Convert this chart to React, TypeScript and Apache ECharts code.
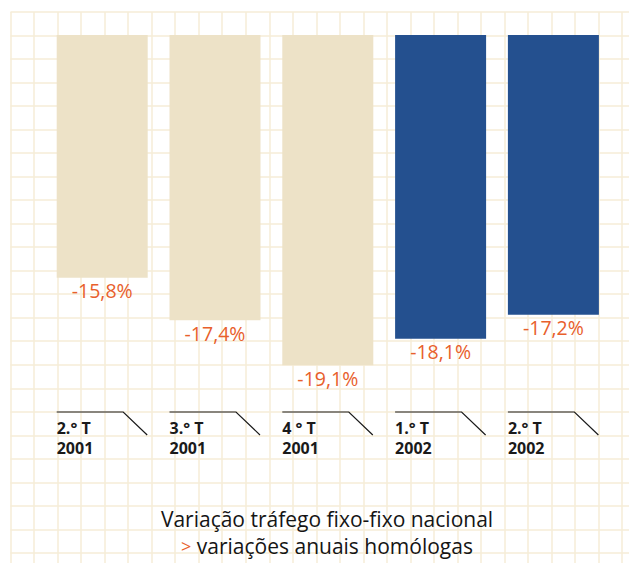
import React, { useEffect, useRef } from "react";
import * as echarts from "echarts";

const quarters = ["2.° T", "3.° T", "4 ° T", "1.° T", "2.° T"];
const years = ["2001", "2001", "2001", "2002", "2002"];
const variations = [-15.8, -17.4, -19.1, -18.1, -17.2];
const barColors = ["#ede2c7", "#ede2c7", "#ede2c7", "#24508f", "#24508f"];
const titleLine1 = "Variação tráfego fixo-fixo nacional";
const titleLine2 = "variações anuais homólogas";

const FONT = "'Open Sans', 'Noto Sans', sans-serif";
const GRID_LINE = "#f6edd7";
const ORANGE = "#e8602c";

export default function App() {
  const ref = useRef<HTMLDivElement>(null);

  useEffect(() => {
    if (!ref.current) return;
    const chart = echarts.init(ref.current, null, { renderer: "svg" });
    const categories = quarters.map((q, i) => `${q}\n${years[i]}`);

    chart.setOption({
      animation: false,
      backgroundColor: "#ffffff",
      title: {
        text: `${titleLine1}\n{o|>} ${titleLine2}`,
        left: 327,
        top: 505,
        textAlign: "center",
        padding: 0,
        textStyle: {
          fontFamily: FONT,
          fontSize: 21,
          fontWeight: "normal",
          color: "#151515",
          lineHeight: 27,
          rich: {
            o: { color: ORANGE, fontFamily: FONT, fontSize: 18, lineHeight: 27 },
          },
        },
      },
      grid: [
        { left: 45.8, top: 35, width: 564, height: 377, containLabel: false },
        { left: 10.5, top: 12, right: 0, bottom: 0, containLabel: false },
      ],
      xAxis: [
        {
          type: "category",
          gridIndex: 0,
          data: categories,
          axisLine: { show: false },
          axisTick: { show: false },
          splitLine: { show: false },
          axisLabel: {
            interval: 0,
            align: "center",
            margin: 6,
            formatter: (v: string) =>
              v
                .split("\n")
                .map((s) => `{a|${s}}`)
                .join("\n"),
            rich: {
              a: {
                width: 91,
                align: "left",
                fontFamily: FONT,
                fontSize: 16,
                fontWeight: "bold",
                color: "#1a1a1a",
                lineHeight: 20,
              },
            },
          },
        },
        {
          type: "value",
          gridIndex: 1,
          min: 0,
          max: 26.63,
          interval: 1,
          axisLine: { show: false },
          axisTick: { show: false },
          axisLabel: { show: false },
          splitLine: { show: true, lineStyle: { color: GRID_LINE, width: 1.5 } },
        },
      ],
      yAxis: [
        {
          type: "value",
          gridIndex: 0,
          min: -20.86,
          max: -6.66,
          axisLine: { show: false },
          axisTick: { show: false },
          axisLabel: { show: false },
          splitLine: { show: false },
        },
        {
          type: "value",
          gridIndex: 1,
          inverse: true,
          min: 0,
          max: 23.77,
          interval: 1,
          axisLine: { show: false },
          axisTick: { show: false },
          axisLabel: { show: false },
          splitLine: { show: true, lineStyle: { color: GRID_LINE, width: 1.5 } },
        },
      ],
      series: [
        {
          type: "bar",
          xAxisIndex: 0,
          yAxisIndex: 0,
          barWidth: 91,
          clip: true,
          data: variations.map((v, i) => ({
            value: v,
            itemStyle: { color: barColors[i] },
          })),
          label: {
            show: true,
            position: "bottom",
            distance: 3,
            fontFamily: FONT,
            fontSize: 19.5,
            color: ORANGE,
            formatter: (p: any) => `${p.value.toFixed(1).replace(".", ",")}%`,
          },
          z: 3,
        },
        {
          type: "custom",
          xAxisIndex: 0,
          yAxisIndex: 0,
          clip: false,
          silent: true,
          data: categories.map((_, i) => [i, -20]),
          renderItem: (params: any, api: any) => {
            const cs = params.coordSys;
            const cx = api.coord([api.value(0), -20])[0];
            const yb = cs.y + cs.height;
            return {
              type: "polyline",
              shape: {
                points: [
                  [cx - 45.5, yb],
                  [cx + 21, yb],
                  [cx + 45, yb + 23],
                ],
              },
              style: { stroke: "#1a1a1a", lineWidth: 1.2, fill: null },
            };
          },
          z: 4,
        },
      ],
    });

    return () => chart.dispose();
  }, []);

  return <div ref={ref} style={{ width: 637, height: 571, margin: -8 }} />;
}
